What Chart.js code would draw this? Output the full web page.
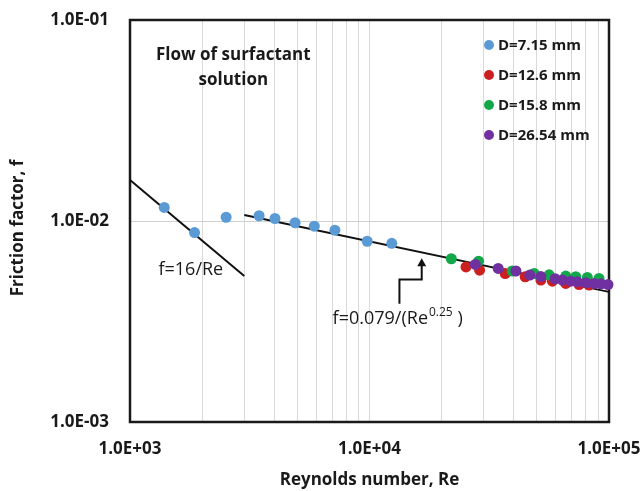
<!DOCTYPE html>
<html><head><meta charset="utf-8">
<script src="https://cdn.jsdelivr.net/npm/chart.js@4.4.1/dist/chart.umd.min.js"></script>
<style>html,body{margin:0;padding:0;background:#fff}#wrap{width:644px;height:491px;position:relative}</style>
</head><body><div id="wrap"><canvas id="c"></canvas></div>
<script>
// ---- data ----
const seriesLabels = ['D=7.15 mm', 'D=12.6 mm', 'D=15.8 mm', 'D=26.54 mm'];
const reD715 = [1390, 1860, 2520, 3460, 4030, 4890, 5880, 7170, 9780, 12390];
const fD715  = [0.01168, 0.00876, 0.01044, 0.01062, 0.01029, 0.00980, 0.00942, 0.00900, 0.00793, 0.00774];
const reD126 = [25290, 28820, 36870, 44670, 51940, 58040, 66000, 74990, 82540];
const fD126  = [0.00591, 0.00569, 0.00548, 0.00528, 0.00508, 0.00502, 0.00489, 0.00483, 0.00480];
const reD158 = [21960, 28540, 39430, 48690, 56230, 66000, 72650, 81220, 90850];
const fD158  = [0.00649, 0.00631, 0.00564, 0.00548, 0.00540, 0.00532, 0.00528, 0.00524, 0.00518];
const reD2654 = [27650, 34470, 40870, 46720, 51940, 59570, 63880, 69250, 73780, 79980, 86600, 92610, 99040];
const fD2654  = [0.00608, 0.00581, 0.00564, 0.00538, 0.00529, 0.00516, 0.00508, 0.00502, 0.00498, 0.00493, 0.00489, 0.00487, 0.00483];
// correlation lines (end points)
const laminarRe = [1000, 3000];
const laminarF  = [0.0160, 0.00533];
const blasiusRe = [3000, 100000];
const blasiusF  = [0.0107, 0.00444];
// ticks
const xTickValues = [1000, 10000, 100000];
const xTickLabels = ['1.0E+03', '1.0E+04', '1.0E+05'];
const xMinorValues = [2000, 3000, 4000, 5000, 6000, 7000, 8000, 9000, 20000, 30000, 40000, 50000, 60000, 70000, 80000, 90000];
const yTickValues = [0.001, 0.01, 0.1];
const yTickLabels = ['1.0E-03', '1.0E-02', '1.0E-01'];

const colors = ['#5B9BD5', '#CC1F1F', '#12A84A', '#7030A0'];
const FONT = "'Open Sans', 'DejaVu Sans', sans-serif";

function pts(xs, ys) { return xs.map((x, i) => ({ x: x, y: ys[i] })); }

const seriesX = [reD715, reD126, reD158, reD2654];
const seriesY = [fD715, fD126, fD158, fD2654];
const orders = [4, 3, 2, 1];

const datasets = seriesLabels.map((lab, i) => ({
  label: lab,
  data: pts(seriesX[i], seriesY[i]),
  backgroundColor: colors[i],
  borderColor: colors[i],
  borderWidth: 0,
  pointRadius: 5.5,
  pointHoverRadius: 5.5,
  showLine: false,
  clip: false,
  order: orders[i]
}));
datasets.push({
  label: 'f=16/Re', data: pts(laminarRe, laminarF), showLine: true, borderColor: '#111', borderWidth: 2,
  pointRadius: 0, backgroundColor: '#111', order: 10, isLine: true, clip: false
});
datasets.push({
  label: 'f=0.079/(Re^0.25)', data: pts(blasiusRe, blasiusF), showLine: true, borderColor: '#111', borderWidth: 2,
  pointRadius: 0, backgroundColor: '#111', order: 10, isLine: true, clip: false
});

function zeroPad(s) { s.paddingTop = 0; s.paddingBottom = 0; s.paddingLeft = 0; s.paddingRight = 0; }

const boxPlugin = {
  id: 'boxPlugin',
  beforeDatasetsDraw(chart) {
    const { ctx, chartArea: a } = chart;
    ctx.save();
    ctx.strokeStyle = '#1a1a1a';
    ctx.lineWidth = 2.5;
    ctx.strokeRect(a.left, a.top, a.right - a.left, a.bottom - a.top);
    ctx.restore();
  },
  afterDatasetsDraw(chart) {
    const { ctx, chartArea: a, scales } = chart;
    const X = v => scales.x.getPixelForValue(v);
    const Y = v => scales.y.getPixelForValue(v);
    ctx.save();
    ctx.fillStyle = '#1a1a1a';
    // inner title
    ctx.font = "bold 17px " + FONT;
    ctx.textAlign = 'center'; ctx.textBaseline = 'middle';
    ctx.fillText('Flow of surfactant', X(2700), Y(0.0672));
    ctx.fillText('solution', X(2700), Y(0.0502));
    // f=16/Re
    ctx.font = "18px " + FONT;
    ctx.fillText('f=16/Re', X(1795), Y(0.00572));
    // Blasius label with superscript
    ctx.textAlign = 'left';
    const x0 = X(7015), y0 = Y(0.00326);
    const p1 = 'f=0.079/(Re';
    ctx.font = "18px " + FONT;
    ctx.fillText(p1, x0, y0);
    let w = ctx.measureText(p1).width;
    ctx.font = "12px " + FONT;
    ctx.fillText('0.25', x0 + w + 1, y0 - 6);
    w += ctx.measureText('0.25').width + 1;
    ctx.font = "18px " + FONT;
    ctx.fillText(' )', x0 + w, y0);
    // arrow
    const ax = X(13335), ayb = Y(0.00388), ayk = Y(0.00512), tx = X(16520), ty = Y(0.00652);
    ctx.strokeStyle = '#111'; ctx.lineWidth = 2;
    ctx.beginPath();
    ctx.moveTo(ax, ayb); ctx.lineTo(ax, ayk); ctx.lineTo(tx, ayk); ctx.lineTo(tx, ty + 7);
    ctx.stroke();
    ctx.beginPath();
    ctx.moveTo(tx, ty); ctx.lineTo(tx - 4.5, ty + 8); ctx.lineTo(tx + 4.5, ty + 8); ctx.closePath();
    ctx.fillStyle = '#111'; ctx.fill();
    // legend
    ctx.font = "bold 15px " + FONT;
    ctx.textAlign = 'left'; ctx.textBaseline = 'middle';
    chart.data.datasets.forEach((ds, i) => {
      if (ds.isLine) return;
      const ly = a.top + 25 + i * 30;
      ctx.beginPath();
      ctx.arc(a.left + 359, ly, 5, 0, Math.PI * 2);
      ctx.fillStyle = ds.backgroundColor; ctx.fill();
      ctx.fillStyle = '#1a1a1a';
      ctx.fillText(ds.label, a.left + 368, ly + 1);
    });
    // y-axis title
    ctx.save();
    ctx.translate(18, 228);
    ctx.rotate(-Math.PI / 2);
    ctx.font = "bold 17px " + FONT;
    ctx.textAlign = 'center'; ctx.textBaseline = 'middle';
    ctx.fillText('Friction factor, f', 0, 0);
    ctx.restore();
    ctx.restore();
  }
};

new Chart(document.getElementById('c'), {
  type: 'scatter',
  data: { datasets },
  options: {
    responsive: true, maintainAspectRatio: false, animation: false,
    layout: { padding: { left: 0, right: 35, top: 20, bottom: 0 } },
    plugins: { legend: { display: false }, tooltip: { enabled: false } },
    scales: {
      x: {
        type: 'logarithmic', min: 1000, max: 100000,
        afterFit(s) { s.height = 69; zeroPad(s); },
        afterBuildTicks(s) {
          s.ticks = xTickValues.concat(xMinorValues).sort((a, b) => a - b).map(v => ({ value: v }));
        },
        ticks: {
          autoSkip: false, maxRotation: 0, padding: 17, color: '#1a1a1a',
          font: { family: FONT, size: 17, weight: 'bold' },
          callback(v) { const i = xTickValues.indexOf(v); return i >= 0 ? xTickLabels[i] : ''; }
        },
        grid: { drawTicks: false, color: '#d9d9d9', lineWidth: 1 },
        border: { display: false },
        title: { display: true, text: 'Reynolds number, Re', color: '#1a1a1a',
          font: { family: FONT, size: 17, weight: 'bold' }, padding: { top: 0, bottom: 1 } }
      },
      y: {
        type: 'logarithmic', min: 0.001, max: 0.1,
        afterFit(s) { s.width = 130; zeroPad(s); },
        afterBuildTicks(s) { s.ticks = yTickValues.map(v => ({ value: v })); },
        ticks: {
          autoSkip: false, padding: 21, color: '#1a1a1a',
          font: { family: FONT, size: 17, weight: 'bold' },
          callback(v) { const i = yTickValues.indexOf(v); return i >= 0 ? yTickLabels[i] : ''; }
        },
        grid: { drawTicks: false, color: '#d0d0d0', lineWidth: 1 },
        border: { display: false }
      }
    }
  },
  plugins: [boxPlugin]
});
</script></body></html>
